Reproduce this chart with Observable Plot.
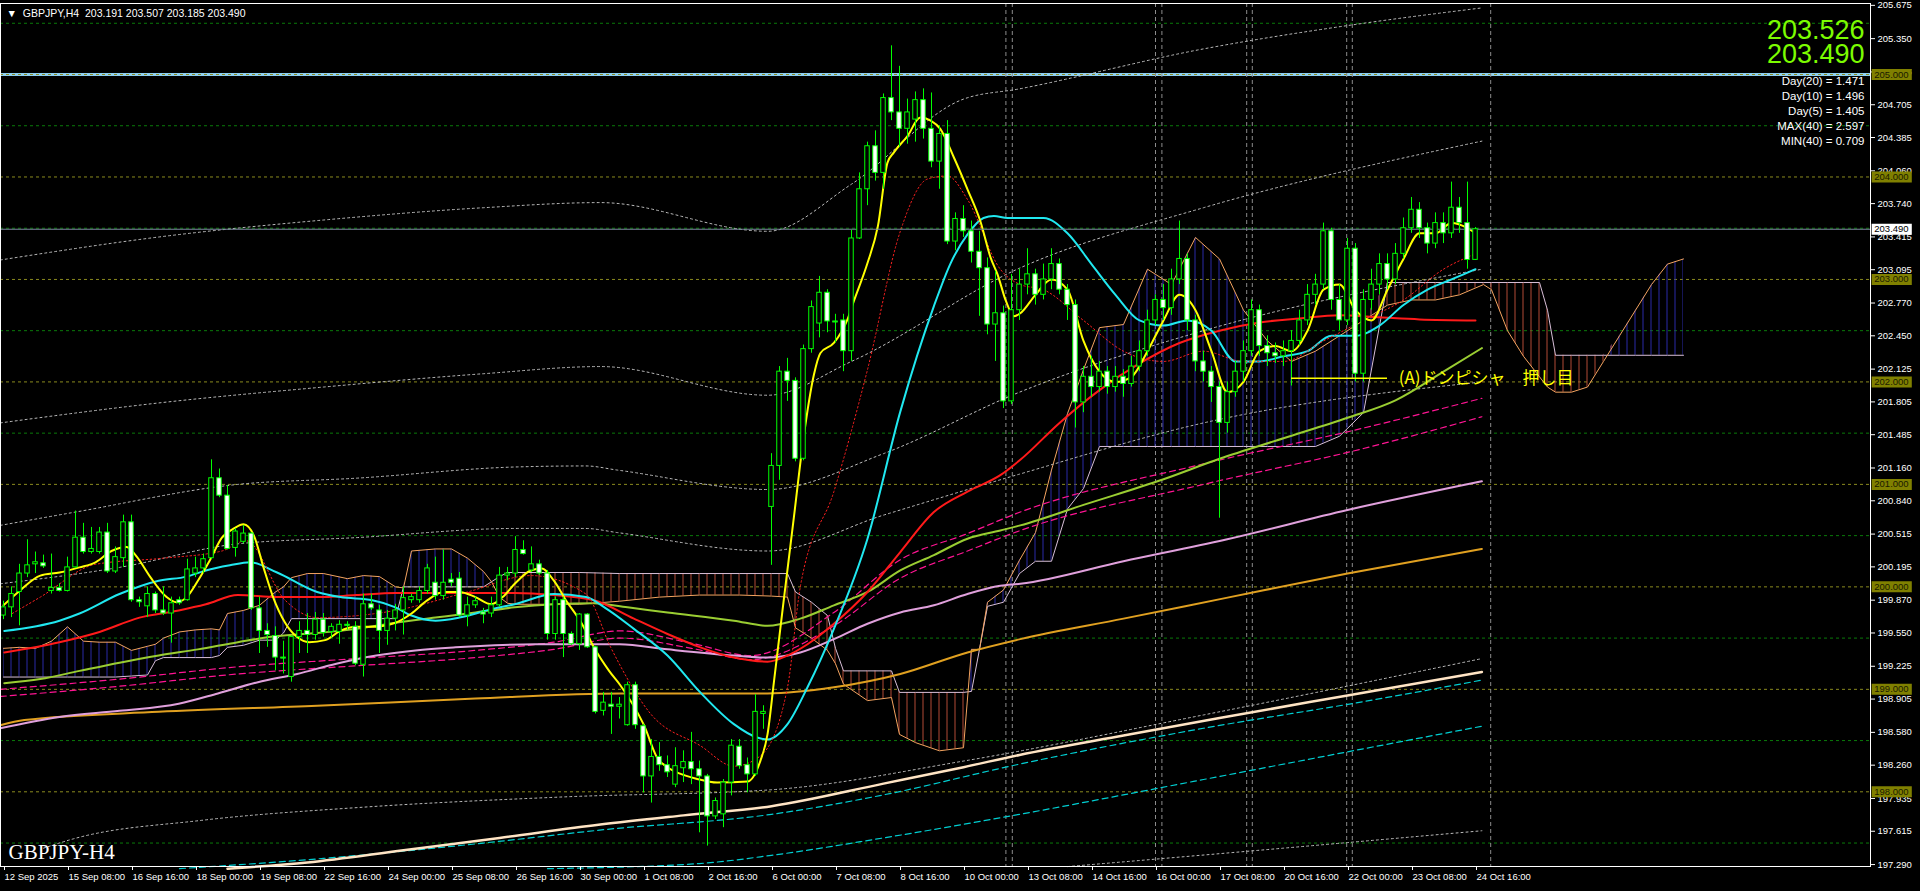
<!DOCTYPE html>
<html><head><meta charset="utf-8">
<script src="https://cdn.jsdelivr.net/npm/d3@7"></script>
<script src="https://cdn.jsdelivr.net/npm/@observablehq/plot@0.6"></script>
<style>
html,body{margin:0;padding:0;background:#000;overflow:hidden;}
#chart svg{display:block;}
</style></head><body><div id="chart"></div>
<script>
// ---------- candles (bar index 0 = 12 Sep 2025 00:00, H4) ----------
const candleOpen = [199.72,199.80,199.95,200.13,200.22,200.23,199.96,199.99,199.96,200.19,200.48,200.34,200.34,200.53,200.15,200.28,200.63,199.87,199.81,199.93,199.77,199.74,199.87,199.87,200.13,200.18,200.28,201.06,200.89,200.38,200.44,200.52,199.79,199.57,199.52,199.31,199.12,199.51,199.57,199.53,199.68,199.56,199.56,199.63,199.61,199.24,199.83,199.77,199.57,199.69,199.77,199.87,199.87,199.96,200.04,199.91,200.07,200.08,199.72,199.82,199.75,199.74,199.82,200.11,200.13,200.36,200.16,200.22,200.13,199.54,199.87,199.54,199.44,199.73,199.41,198.79,198.85,198.83,198.65,199.04,198.64,198.15,198.34,198.26,198.07,198.23,198.29,198.22,198.15,197.76,197.78,198.09,198.44,198.26,198.17,198.76,200.78,201.18,202.10,202.01,201.25,202.32,202.57,202.87,202.59,202.60,202.30,203.40,203.88,204.30,204.04,204.77,204.63,204.47,204.56,204.75,204.47,204.15,204.42,203.37,203.59,203.47,203.27,203.11,202.56,202.67,201.81,202.70,202.95,203.05,202.85,203.00,203.15,202.90,202.75,201.80,202.05,201.95,202.10,201.95,202.05,201.98,202.15,202.30,202.60,202.80,202.72,203.00,203.20,202.60,202.20,202.10,201.95,201.60,201.90,202.10,202.30,202.70,202.35,202.28,202.25,202.30,202.40,202.60,202.85,202.95,203.47,202.80,202.60,203.30,202.08,202.80,202.95,203.15,203.00,203.25,203.50,203.68,203.50,203.35,203.55,203.45,203.70,203.55,203.191];
const candleHigh = [199.86,200.00,200.22,200.46,200.34,200.31,200.32,200.03,200.29,200.74,200.62,200.58,200.58,200.62,200.39,200.70,200.70,199.90,200.00,199.95,200.00,199.90,199.90,200.27,200.29,200.32,201.24,201.15,200.99,200.57,200.60,200.53,199.90,199.64,199.61,199.47,199.52,199.66,199.74,199.75,199.74,199.64,199.67,199.66,199.66,199.93,199.93,199.82,199.77,199.83,200.00,199.93,200.00,200.22,200.29,200.36,200.13,200.14,199.90,199.90,199.79,199.90,200.19,200.19,200.49,200.45,200.39,200.26,200.16,199.90,199.90,199.56,199.74,199.74,199.42,198.97,198.97,198.92,199.07,199.07,198.66,198.51,198.48,198.35,198.43,198.40,198.58,198.30,198.17,197.94,198.12,198.51,198.51,198.33,198.95,198.84,201.30,202.15,202.23,202.04,202.36,202.79,203.03,202.90,202.66,202.66,203.48,204.04,204.34,204.45,204.81,205.28,205.08,204.76,204.83,204.86,204.82,204.50,204.55,203.65,203.72,203.57,203.47,203.21,203.08,202.74,203.05,203.10,203.30,203.10,203.15,203.30,203.20,202.95,202.80,202.15,202.25,202.20,202.15,202.15,202.12,202.25,202.40,202.70,202.85,202.95,203.10,203.57,203.25,202.65,202.30,202.15,202.00,202.00,202.20,202.40,202.80,202.75,202.45,202.38,202.40,202.50,202.70,202.95,203.05,203.55,203.50,202.95,203.40,203.35,202.90,203.10,203.25,203.25,203.35,203.60,203.80,203.75,203.55,203.65,203.65,203.95,203.80,203.95,203.507];
const candleLow = [199.68,199.70,199.62,200.09,200.13,200.18,199.93,199.95,199.95,200.18,200.32,200.32,200.32,200.13,200.13,200.19,199.85,199.80,199.70,199.74,199.72,199.45,199.82,199.86,200.09,200.13,200.27,200.87,200.36,200.29,200.42,199.77,199.35,199.41,199.18,199.15,199.07,199.35,199.35,199.48,199.51,199.50,199.44,199.58,199.23,199.12,199.77,199.35,199.43,199.57,199.53,199.84,199.84,199.93,199.87,199.87,200.00,199.70,199.61,199.79,199.64,199.70,199.80,200.06,200.09,200.31,200.14,200.11,199.48,199.48,199.31,199.43,199.38,199.40,198.76,198.74,198.56,198.71,198.64,198.61,197.99,197.89,198.20,198.14,198.04,198.09,198.07,197.60,197.47,197.73,197.65,197.96,198.22,197.99,198.15,198.61,200.21,201.04,201.81,201.22,201.23,202.28,202.43,202.48,202.38,202.10,202.20,203.39,203.72,203.96,203.88,204.55,204.29,204.32,204.34,204.37,204.09,203.88,203.34,203.28,203.41,203.16,202.64,202.46,202.20,201.74,201.78,202.60,202.85,202.75,202.80,202.90,202.85,202.60,201.55,201.70,201.85,201.90,201.88,201.90,201.85,201.95,202.10,202.25,202.55,202.60,202.65,202.95,202.50,202.10,202.00,201.80,200.67,201.50,201.85,202.00,202.25,202.25,202.15,202.18,202.15,201.96,202.35,202.55,202.75,202.90,202.70,202.50,202.55,202.00,202.00,202.70,202.85,202.90,202.95,203.20,203.45,203.40,203.25,203.30,203.35,203.40,203.45,203.10,203.185];
const candleClose = [199.80,199.93,200.13,200.21,200.24,200.20,199.99,199.96,200.19,200.48,200.34,200.37,200.53,200.15,200.29,200.63,199.87,199.85,199.93,199.77,199.74,199.84,199.84,200.17,200.18,200.27,201.06,200.89,200.37,200.54,200.52,199.79,199.57,199.53,199.31,199.30,199.51,199.57,199.53,199.68,199.55,199.61,199.63,199.62,199.25,199.83,199.79,199.57,199.69,199.77,199.89,199.90,199.96,200.18,199.91,200.04,200.04,199.72,199.82,199.86,199.73,199.82,200.11,200.13,200.36,200.32,200.22,200.13,199.54,199.87,199.54,199.44,199.73,199.41,198.78,198.87,198.83,198.85,199.04,198.65,198.15,198.34,198.26,198.19,198.25,198.29,198.22,198.15,197.76,197.91,198.09,198.45,198.25,198.17,198.78,198.78,201.18,202.10,202.01,201.25,202.32,202.73,202.87,202.59,202.58,202.30,203.40,203.88,204.30,204.04,204.77,204.63,204.47,204.63,204.75,204.47,204.15,204.42,203.37,203.59,203.47,203.27,203.11,202.56,202.67,201.81,202.70,202.95,203.05,202.85,203.00,203.15,202.90,202.75,201.80,202.05,201.95,202.10,201.95,202.05,201.98,202.15,202.30,202.60,202.80,202.72,203.00,203.20,202.60,202.20,202.10,201.95,201.60,201.90,202.10,202.30,202.70,202.35,202.28,202.25,202.30,202.40,202.60,202.85,202.95,203.47,202.80,202.60,203.30,202.08,202.80,202.95,203.15,203.00,203.25,203.50,203.68,203.50,203.35,203.55,203.45,203.70,203.55,203.19,203.490];

// ---------- moving averages (bar index, price) ----------
const maFastBars = [0,2,4.6,7,9.5,11.5,13.5,15.4,16.7,18.4,20.4,21.6,22.9,24.3,25.8,27.3,28.8,30,31.3,32.5,33.7,35.2,36.7,38.2,40.2,42.1,44.1,46.1,49,51,53,55,57,59,61,62.4,63.9,65.9,67.3,68.8,70.3,72.3,73.8,75.7,77.1,80,82,87,89.2,93,94.6,95.5,96.3,97.5,98.8,100,101.3,102.1,103.8,105.5,106.3,108,109.3,110.5,111.3,113,114.6,115.9,117.1,118.8,120.5,122.1,123.4,124.25,125.3,126.3,127.1,129,131,133,135,137,139,141,143,145,147,149,151,153,155,157,159,161,163,165,167,169,171,173,175,177,179,181,183,184];
const maFastVals = [199.82,199.96,200.11,200.14,200.19,200.24,200.35,200.39,200.29,200.09,199.90,199.85,199.90,200.06,200.26,200.48,200.57,200.61,200.50,200.19,199.90,199.65,199.51,199.46,199.48,199.57,199.61,199.61,199.65,199.74,199.87,199.95,199.95,199.90,199.83,199.90,200.03,200.16,200.18,200.06,199.87,199.64,199.41,199.18,199.04,198.66,198.30,198.12,198.09,198.10,198.30,198.56,199.07,199.85,200.68,201.45,202.07,202.28,202.38,202.61,202.79,203.16,203.52,204.14,204.24,204.40,204.58,204.55,204.47,204.19,203.88,203.57,203.21,203.05,202.79,202.64,202.67,202.85,203.00,202.90,202.40,202.10,202.00,202.05,202.30,202.60,202.85,202.70,202.30,201.90,202.00,202.30,202.35,202.30,202.50,202.90,202.95,202.70,202.60,202.90,203.20,203.45,203.45,203.55,203.50,203.45];

const maRedDotBars = [1.1,4.6,11.5,20,27.3,30.3,35.2,39.2,49,58,65.9,72.8,75.9,80.9,87.1,91.3,94.6,98,99.6,103.8,108,112.1,115.5,118,120.5,124.6,127.1,130,135,140,145,150,155,160,165,170,175,180,184];
const maRedDotVals = [199.74,199.90,200.22,200.28,200.35,200.45,199.87,199.70,199.77,199.95,200.11,199.93,199.41,198.76,198.45,198.25,198.35,199.02,200.00,200.93,202.12,203.47,203.98,204.01,203.78,203.10,202.95,202.90,202.60,202.30,202.20,202.30,202.20,202.20,202.40,202.60,202.80,203.10,203.25];

const maCyanBars = [0.1,7,9.5,14.5,19.4,22.9,25.3,28.3,30.8,34.2,39.2,42.1,46.1,49,51,54,57,61.4,63.9,68.8,72.8,75.3,78.8,83,87.1,91.3,94.2,95.5,98,100.5,103.8,108,112.1,116.3,118.4,120.5,122.5,123.8,125.5,127.1,130,133,136,139,142,145,148,151,154,157,160,163,166,169,172,175,178,181,184];
const maCyanVals = [199.57,199.67,199.74,199.93,200.06,200.10,200.16,200.21,200.24,200.14,199.95,199.90,199.87,199.80,199.72,199.67,199.70,199.79,199.83,199.93,199.90,199.79,199.59,199.33,198.97,198.66,198.53,198.51,198.66,199.02,199.59,200.47,201.71,202.74,203.16,203.44,203.60,203.62,203.60,203.60,203.60,203.45,203.15,202.85,202.60,202.55,202.60,202.50,202.20,202.20,202.25,202.30,202.45,202.45,202.55,202.75,202.90,203.00,203.10];

const maRedBars = [0.1,7,12,17,21.9,25.3,29.3,34.2,39.2,44.1,49,54,59,63.9,68.8,73.8,78.8,83,87.1,91.3,95.5,98,100.5,103.8,108,112.1,116.3,120.5,124.6,127.1,132,137,142,147,152,157,162,167,172,177,184];
const maRedVals = [199.36,199.46,199.56,199.70,199.77,199.83,199.92,199.90,199.90,199.92,199.94,199.94,199.94,199.94,199.92,199.87,199.69,199.54,199.41,199.31,199.27,199.33,199.44,199.64,199.95,200.34,200.73,200.93,201.09,201.24,201.60,201.92,202.18,202.38,202.50,202.58,202.62,202.65,202.63,202.61,202.60];

const maOliveBars = [0.1,4.6,9.5,14.5,19.4,24.3,29.3,34.2,39.2,44.1,49,54,59,63.9,68.8,73.8,78,83,91.3,95.5,99.6,103.8,108,112.1,116.3,120.5,124.6,127.1,135,145,152,160,168,174,180,184.8];
const maOliveVals = [199.06,199.10,199.18,199.26,199.33,199.39,199.46,199.52,199.55,199.59,199.65,199.70,199.75,199.80,199.83,199.84,199.80,199.75,199.67,199.62,199.69,199.82,199.95,200.16,200.31,200.47,200.55,200.60,200.80,201.05,201.25,201.45,201.65,201.82,202.10,202.33];

const maPlumBars = [-0.4,7,14.5,21.9,26.8,31.8,36.7,41.6,46.6,51.5,56.5,61.4,66.4,71.3,77,83,91.3,95.5,99.6,103.8,108,112.1,116.3,120.5,124.6,127.1,140,152.7,168,184.8];
const maPlumVals = [198.62,198.73,198.79,198.86,198.96,199.07,199.15,199.25,199.33,199.38,199.41,199.43,199.44,199.44,199.44,199.39,199.33,199.31,199.36,199.49,199.64,199.75,199.82,199.93,200.01,200.03,200.25,200.46,200.75,201.03];

const maGoldBars = [-0.4,2.6,19.4,39.2,59,77.1,95.5,103.8,112.1,120.5,127.1,140,152.7,168,184.8];
const maGoldVals = [198.65,198.70,198.78,198.84,198.91,198.96,198.96,199.02,199.15,199.36,199.49,199.69,199.89,200.13,200.37];

const maLongBars = [28,38,50,62,74.6,85,96,110,120,127,140,152,168,184.8];
const maLongVals = [197.25,197.31,197.43,197.55,197.68,197.77,197.86,198.08,198.24,198.36,198.55,198.72,198.94,199.17];

const envCyan1Bars = [22,40,60,75,96,110,127,150,170,184.8];
const envCyan1Vals = [197.25,197.35,197.50,197.63,197.78,197.97,198.27,198.62,198.88,199.09];
const envCyan2Bars = [68,87,96,110,127,150,170,184.8];
const envCyan2Vals = [197.25,197.30,197.38,197.55,197.78,198.12,198.42,198.64];

const envPink1Bars = [-0.4,14.5,29.3,44.1,59,68.8,77.1,86,93.4,103.8,112,120.5,127.1,150,170,184.8];
const envPink1Vals = [199.00,199.10,199.22,199.30,199.38,199.46,199.57,199.45,199.33,199.75,200.26,200.52,200.73,201.20,201.55,201.84];
const envPink2Bars = [-0.4,14.5,29.3,44.1,59,68.8,77.1,86,93.4,103.8,112,120.5,127.1,150,170,184.8];
const envPink2Vals = [198.93,199.03,199.15,199.23,199.31,199.39,199.50,199.40,199.29,199.62,200.08,200.35,200.55,201.00,201.35,201.66];

// gray dotted bands
const band1Bars = [-0.4,20,40,60,74.6,95.5,106,120,127,150,170,184.8];
const band1Vals = [203.19,203.42,203.58,203.70,203.75,203.47,203.93,204.76,204.86,205.25,205.50,205.65];
const band2Bars = [-0.4,20,40,60,74.6,95.5,106,127,150,184.8];
const band2Vals = [201.60,201.80,201.95,202.08,202.15,201.87,202.20,203.11,203.70,204.35];
const band3Bars = [-0.4,9,29.3,44,64,72.8,76.7,95.5,110,127,150,184.8];
const band3Vals = [200.60,200.73,201.00,201.06,201.17,201.18,201.14,200.95,201.30,201.90,202.50,203.10];
const band4Bars = [-0.4,14.5,29.3,44,64,72.8,76.7,95.5,110,127,150,184.8];
const band4Vals = [200.03,200.19,200.42,200.48,200.57,200.57,200.53,200.35,200.70,201.10,201.60,202.00];
const band5Bars = [5,8.7,24.6,45,70,96,120,150,184.8];
const band5Vals = [197.45,197.54,197.72,197.85,197.95,198.02,198.30,198.75,199.30];
const band6Bars = [133,160,184.8];
const band6Vals = [197.27,197.45,197.62];

// ---------- ichimoku cloud (bar index, span A, span B) ----------
const cloudBars = [0,2,4,6,8,10,12,14,16,18,19,20,22,24,26,27,28,30,32,34,35,36,38,40,43,45,47,49,50,51,54,56,58,60,61,62,63,64,68,72,77,82,87,92,96,98,99,101,103,104,105,108,111,112,114,117,120,121,122,123,125,127,129,131,133,135,137,140,143,146,149,152,155,158,161,164,167,170,173,176,179,182,185,186,188,190,192,193,194,196,198,200,202,204,206,208,210];
const spanA = [199.40,199.41,199.40,199.47,199.61,199.47,199.46,199.46,199.38,199.42,199.44,199.50,199.56,199.58,199.59,199.58,199.74,199.77,199.82,199.95,200.00,200.09,200.13,200.13,200.08,200.11,200.10,200.00,199.99,200.35,200.37,200.37,200.28,200.15,200.05,199.90,199.84,199.83,199.83,199.83,199.86,199.90,199.92,199.92,199.91,199.90,199.60,199.50,199.38,199.25,199.05,198.89,198.92,198.56,198.48,198.40,198.43,199.39,199.39,199.85,199.97,200.26,200.53,201.14,201.69,202.12,202.53,202.56,203.10,202.95,203.41,203.20,202.70,202.40,202.20,202.30,202.45,202.60,202.75,202.80,202.80,202.85,202.95,202.90,202.50,202.25,202.05,201.95,201.90,201.90,201.95,202.20,202.45,202.70,202.95,203.15,203.20];
const spanB = [199.12,199.12,199.12,199.12,199.12,199.12,199.12,199.12,199.13,199.14,199.28,199.31,199.31,199.31,199.31,199.33,199.41,199.43,199.48,199.48,199.55,199.69,199.69,199.69,199.69,199.69,199.69,199.69,200.00,200.00,200.00,200.00,200.00,200.00,200.05,200.10,200.14,200.14,200.14,200.14,200.13,200.13,200.13,200.13,200.13,200.13,199.95,199.85,199.72,199.40,199.18,199.18,199.18,198.97,198.97,198.97,198.97,198.98,199.39,199.81,199.85,200.13,200.25,200.25,200.76,200.96,201.37,201.37,201.37,201.37,201.37,201.37,201.37,201.37,201.37,201.37,201.47,201.70,202.97,202.97,202.97,202.97,202.97,202.97,202.97,202.97,202.97,202.70,202.26,202.26,202.26,202.26,202.26,202.26,202.26,202.26,202.26];

// ---------- levels, axes, texts ----------
const gridHalf = [197.5,198.5,199.5,200.5,201.5,202.5,203.5,204.5,205.5];
const levelLines = [198,199,200,201,202,203,204,205];
const blueLevel = 205.000;
const bidPrice = 203.490;
const askPrice = 203.526;
const yAxisTicks = [205.675,205.350,205.025,204.705,204.385,204.060,203.740,203.415,203.095,202.770,202.450,202.125,201.805,201.485,201.160,200.840,200.515,200.195,199.870,199.550,199.225,198.905,198.580,198.260,197.935,197.615,197.290];
const tickBars = [0,8,16,24,32,40,48,56,64,72,80,88,96,104,112,120,128,136,144,152,160,168,176,184];
const tickLabels = ["12 Sep 2025","15 Sep 08:00","16 Sep 16:00","18 Sep 00:00","19 Sep 08:00","22 Sep 16:00","24 Sep 00:00","25 Sep 08:00","26 Sep 16:00","30 Sep 00:00","1 Oct 08:00","2 Oct 16:00","6 Oct 00:00","7 Oct 08:00","8 Oct 16:00","10 Oct 00:00","13 Oct 08:00","14 Oct 16:00","16 Oct 00:00","17 Oct 08:00","20 Oct 16:00","22 Oct 00:00","23 Oct 08:00","24 Oct 16:00"];
const vLineBars = [125.3,126.1,144.0,144.8,155.4,156.1,167.9,168.6,185.9];
const headerText = "GBPJPY,H4";
const headerOHLC = [203.191,203.507,203.185,203.490];
const infoLabels = ["Day(20)","Day(10)","Day(5)","MAX(40)","MIN(40)"];
const infoValues = [1.471,1.496,1.405,2.597,0.709];
const supportLevel = 202.035;
const supportFrom = 161, supportTo = 173;
const annotationText = "(A)ドンピシャ　押し目";
const annotationBar = 174.4;
const chartName = "GBPJPY-H4";

// ---------- layout ----------
const W = 1920, H = 891;
const X_DOMAIN = [-0.375, 233.375];
const Y_DOMAIN = [197.271, 205.693];
const BOX_X1 = 233.58, BOX_X2 = 238.6, BOX_TEXT_X = 233.85;
const INFO_TOP = 78, INFO_STEP = 15;

const pairs = (b, v) => b.map((n, i) => [n, v[i]]);
const candles = candleOpen.map((o, i) => ({i, o, h: candleHigh[i], l: candleLow[i], c: candleClose[i]}));
const cloud = cloudBars.map((n, i) => ({n, a: spanA[i], b: spanB[i]}));
const line = (b, v, opts) => Plot.line(pairs(b, v), {curve: "monotone-x", ...opts});
const dotted = {stroke: "#bdbdbd", strokeWidth: 1, strokeDasharray: "2,3"};

const chart = Plot.plot({
  width: W, height: H,
  marginTop: 3, marginBottom: 25, marginLeft: 0, marginRight: 50,
  style: {background: "#000", color: "#fff", fontFamily: "'Liberation Sans', Arial, sans-serif", fontSize: "9.5px", overflow: "visible"},
  x: {domain: X_DOMAIN, axis: null},
  y: {domain: Y_DOMAIN, axis: null},
  marks: [
    Plot.ruleY(gridHalf, {stroke: "#0a7a0a", strokeDasharray: "3,3"}),
    Plot.ruleY([blueLevel], {stroke: "#8fd0f0", strokeWidth: 3}),
    Plot.ruleY(levelLines, {stroke: "#8a8a1e", strokeDasharray: "3,3"}),
    Plot.ruleX(vLineBars, {stroke: "#8c8c8c", strokeDasharray: "4,3"}),
    // cloud hatch
    Plot.areaY(cloud, {x: "n", y1: "b", y2: d => Math.max(d.a, d.b), fill: "url(#hatchBlue)", curve: "linear"}),
    Plot.areaY(cloud, {x: "n", y1: "a", y2: d => Math.max(d.a, d.b), fill: "url(#hatchRed)", curve: "linear"}),
    Plot.line(cloud, {x: "n", y: "b", stroke: "#d8bfd8", strokeWidth: 1}),
    Plot.line(cloud, {x: "n", y: "a", stroke: "#f4a460", strokeWidth: 1}),
    // dotted bands
    line(band1Bars, band1Vals, dotted),
    line(band2Bars, band2Vals, dotted),
    line(band3Bars, band3Vals, dotted),
    line(band4Bars, band4Vals, dotted),
    line(band5Bars, band5Vals, dotted),
    line(band6Bars, band6Vals, dotted),
    line(envCyan1Bars, envCyan1Vals, {stroke: "#00ced1", strokeWidth: 1.2, strokeDasharray: "6,4"}),
    line(envCyan2Bars, envCyan2Vals, {stroke: "#00ced1", strokeWidth: 1.2, strokeDasharray: "6,4"}),
    line(envPink1Bars, envPink1Vals, {stroke: "#ff1493", strokeWidth: 1.2, strokeDasharray: "6,4"}),
    line(envPink2Bars, envPink2Vals, {stroke: "#ff1493", strokeWidth: 1.2, strokeDasharray: "6,4"}),
    // moving averages
    line(maLongBars, maLongVals, {stroke: "#ffe4c4", strokeWidth: 2.5}),
    line(maGoldBars, maGoldVals, {stroke: "#e0a020", strokeWidth: 2}),
    line(maPlumBars, maPlumVals, {stroke: "#e0a0dc", strokeWidth: 2}),
    line(maOliveBars, maOliveVals, {stroke: "#9acd32", strokeWidth: 2}),
    line(maRedBars, maRedVals, {stroke: "#ff1a1a", strokeWidth: 2}),
    line(maCyanBars, maCyanVals, {stroke: "#20e8f0", strokeWidth: 2}),
    line(maRedDotBars, maRedDotVals, {stroke: "#ff2020", strokeWidth: 1, strokeDasharray: "1.5,2.5"}),
    line(maFastBars, maFastVals, {stroke: "#ffff00", strokeWidth: 2}),
    // bid line
    Plot.ruleY([bidPrice], {stroke: "#7a8aa0", strokeWidth: 1}),
    // candles
    Plot.ruleX(candles, {x: "i", y1: "l", y2: "h", stroke: "#00ff00", strokeWidth: 1}),
    Plot.rect(candles, {x1: d => d.i - 0.28, x2: d => d.i + 0.28, y1: "o", y2: "c",
      fill: d => d.c >= d.o ? "#000" : "#fff", stroke: "#00ff00", strokeWidth: 1}),
    // support line and annotation
    Plot.ruleY([supportLevel], {x1: supportFrom, x2: supportTo, stroke: "#ffff00", strokeWidth: 1.5}),
    Plot.text([annotationText], {x: annotationBar, y: supportLevel, text: d => d, fill: "#ffff00", textAnchor: "start",
      fontSize: 17, fontFamily: "'Noto Sans CJK JP', sans-serif"}),
    // axes
    Plot.axisY({anchor: "right", ticks: yAxisTicks, tickFormat: d => d.toFixed(3), tickSize: 4, tickPadding: 3, fontSize: 9.5, stroke: "#fff", fill: "#fff"}),
    Plot.axisX({anchor: "bottom", ticks: tickBars, tickFormat: d => tickLabels[tickBars.indexOf(d)], tickSize: 4, tickPadding: 3, textAnchor: "start", dx: 1, fontSize: 9.5, stroke: "#fff", fill: "#fff"}),
    Plot.ruleY(levelLines, {x1: BOX_X1, x2: BOX_X2, stroke: "#808000", strokeWidth: 11}),
    Plot.text(levelLines, {x: BOX_TEXT_X, y: d => d, text: d => d.toFixed(3), fill: "#1a1a00", textAnchor: "start", fontSize: 9.5}),
    Plot.ruleY([bidPrice], {x1: BOX_X1, x2: BOX_X2, stroke: "#fff", strokeWidth: 11}),
    Plot.text([bidPrice], {x: BOX_TEXT_X, y: d => d, text: d => d.toFixed(3), fill: "#000", textAnchor: "start", fontSize: 9.5}),
    Plot.frame({stroke: "#fff"}),
    // header and overlays
    Plot.text([`▼  ${headerText}  ${headerOHLC.map(v => v.toFixed(3)).join(" ")}`], {frameAnchor: "top-left", dx: 6, dy: 6, fill: "#fff", textAnchor: "start", fontSize: 10.5}),
    Plot.text([askPrice], {frameAnchor: "top-right", dx: -6, dy: 16, text: d => d.toFixed(3), fill: "#7cfc00", textAnchor: "end", fontSize: 27, lineAnchor: "top"}),
    Plot.text([bidPrice], {frameAnchor: "top-right", dx: -6, dy: 40, text: d => d.toFixed(3), fill: "#7cfc00", textAnchor: "end", fontSize: 27, lineAnchor: "top"}),
    ...infoLabels.map((lab, i) => Plot.text([`${lab} = ${infoValues[i].toFixed(3)}`], {frameAnchor: "top-right", dx: -6, dy: INFO_TOP + i * INFO_STEP, fill: "#fff", textAnchor: "end", fontSize: 11.5, lineAnchor: "middle"})),
    Plot.text([chartName], {frameAnchor: "bottom-left", dx: 8, dy: -8, fill: "#fff", textAnchor: "start", fontSize: 21, fontFamily: "'Liberation Serif', 'Times New Roman', serif"})
  ]
});

// hatch patterns for the cloud
const defs = d3.select(chart).insert("defs", ":first-child");
defs.html(`
<pattern id="hatchBlue" patternUnits="userSpaceOnUse" width="8" height="8" x="0" y="0">
  <rect x="2.5" y="0" width="1" height="8" fill="#2a2aa8"/></pattern>
<pattern id="hatchRed" patternUnits="userSpaceOnUse" width="8" height="8" x="0" y="0">
  <rect x="2.5" y="0" width="1" height="8" fill="#b24a36"/></pattern>`);

document.getElementById("chart").appendChild(chart);
</script></body></html>
